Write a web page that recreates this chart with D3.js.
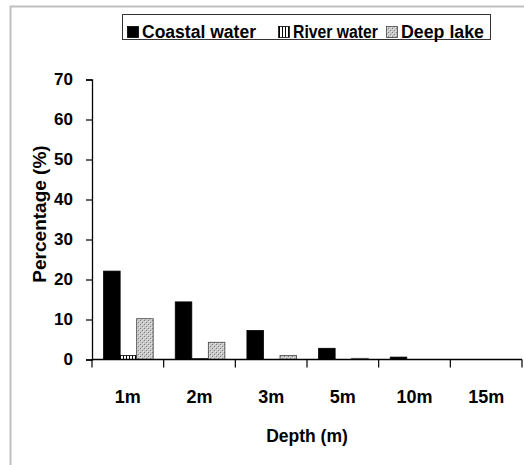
<!DOCTYPE html>
<html><head><meta charset="utf-8">
<script src="https://cdn.jsdelivr.net/npm/d3@7"></script>
<style>html,body{margin:0;padding:0;background:#fff;}svg{display:block;}</style>
</head><body>
<script>
const categories = ["1m","2m","3m","5m","10m","15m"];
const seriesNames = ["Coastal water","River water","Deep lake"];
const coastal = [22.1, 14.4, 7.25, 2.8, 0.6, 0];
const river = [1.0, 0.2, 0, 0, 0, 0];
const deepLake = [10.2, 4.3, 1.0, 0.3, 0, 0];
const yTicks = [0,10,20,30,40,50,60,70];

const W = 524, H = 465;
const svg = d3.select("body").append("svg").attr("width", W).attr("height", H);
const defs = svg.append("defs");
const pr = defs.append("pattern").attr("id","pRiver").attr("patternUnits","userSpaceOnUse").attr("width",3).attr("height",3);
pr.append("rect").attr("width",3).attr("height",3).attr("fill","#fff");
pr.append("rect").attr("x",0).attr("width",1).attr("height",3).attr("fill","#000");
const pl = defs.append("pattern").attr("id","pLake").attr("patternUnits","userSpaceOnUse").attr("width",4).attr("height",4);
pl.append("rect").attr("width",4).attr("height",4).attr("fill","#c8c8c8");
pl.append("rect").attr("x",0).attr("y",0).attr("width",1).attr("height",1).attr("fill","#808080");
pl.append("rect").attr("x",2).attr("y",2).attr("width",1).attr("height",1).attr("fill","#808080");
pl.append("rect").attr("x",1).attr("y",1).attr("width",1).attr("height",1).attr("fill","#e8e8e8");
pl.append("rect").attr("x",3).attr("y",3).attr("width",1).attr("height",1).attr("fill","#e8e8e8");

const fills = ["#000","url(#pRiver)","url(#pLake)"];
const strokes = ["#000","#000","#444"];
const series = [coastal, river, deepLake];

// frame
svg.append("path").attr("d",`M10.5,${H} V6.5 H${W}`).attr("fill","none").attr("stroke","#c0c0c0").attr("stroke-width",2);

const x0 = d3.scaleBand().domain(categories).range([92, 522]).padding(0);
const x1 = d3.scaleBand().domain(seriesNames).range([11.6, 61.2]).padding(0);
const y = d3.scaleLinear().domain([0,70]).range([359.5, 79.5]);

const font = "'Liberation Sans', Arial, sans-serif";

// bars
const g = svg.append("g");
categories.forEach((c,i)=>{
  seriesNames.forEach((s,j)=>{
    const v = series[j][i];
    if (v <= 0) return;
    g.append("rect")
      .attr("x", x0(c)+x1(s)).attr("y", y(v))
      .attr("width", x1.bandwidth()).attr("height", y(0)-y(v))
      .attr("fill", fills[j]).attr("stroke", strokes[j]).attr("stroke-width",0.8);
  });
});

// y axis
const yAxis = d3.axisLeft(y).tickValues(yTicks).tickSize(6).tickPadding(13).tickFormat(d3.format("d"));
const ya = svg.append("g").attr("transform","translate(92,0)").call(yAxis);
ya.select(".domain").attr("stroke","#000").attr("stroke-width",1.3);
ya.selectAll(".tick line").attr("stroke","#000").attr("stroke-width",1.2);
ya.selectAll("text").attr("font-family",font).attr("font-weight","bold").attr("font-size","17px").attr("fill","#000");

// x axis
const xa = svg.append("g").attr("transform","translate(0,359.5)");
xa.append("line").attr("x1",92).attr("x2",522).attr("y1",0).attr("y2",0).attr("stroke","#000").attr("stroke-width",1.5);
const bounds = categories.map(c=>x0(c)).concat([x0.range()[1]]);
xa.selectAll(".xt").data(bounds).enter().append("line")
  .attr("x1",d=>d).attr("x2",d=>d).attr("y1",0).attr("y2",8).attr("stroke","#000").attr("stroke-width",1.2);
xa.selectAll(".xl").data(categories).enter().append("text")
  .attr("x",d=>x0(d)+x0.bandwidth()/2).attr("y",43)
  .attr("text-anchor","middle").attr("font-family",font).attr("font-weight","bold").attr("font-size","18px").text(d=>d);

// axis titles
svg.append("text").attr("x",307).attr("y",442).attr("text-anchor","middle")
  .attr("font-family",font).attr("font-weight","bold").attr("font-size","17.5px").text("Depth (m)");
svg.append("text").attr("transform","translate(46,214) rotate(-90)").attr("text-anchor","middle")
  .attr("font-family",font).attr("font-weight","bold").attr("font-size","19px").text("Percentage (%)");

// legend
const lg = svg.append("g");
lg.append("rect").attr("x",122.5).attr("y",14.5).attr("width",368).attr("height",25).attr("fill","#fff").attr("stroke","#333").attr("stroke-width",1);
const legX = [127, 278, 386];
const legLen = [114, 85, 83];
seriesNames.forEach((s,j)=>{
  lg.append("rect").attr("x",legX[j]+0.5).attr("y",26.5).attr("width",11).attr("height",11)
    .attr("fill",fills[j]).attr("stroke",strokes[j]).attr("stroke-width",0.8);
  lg.append("text").attr("x",legX[j]+15).attr("y",37.5)
    .attr("textLength",legLen[j]).attr("lengthAdjust","spacingAndGlyphs")
    .attr("font-family",font).attr("font-weight","bold").attr("font-size","18px").text(s);
});
</script>
</body></html>
